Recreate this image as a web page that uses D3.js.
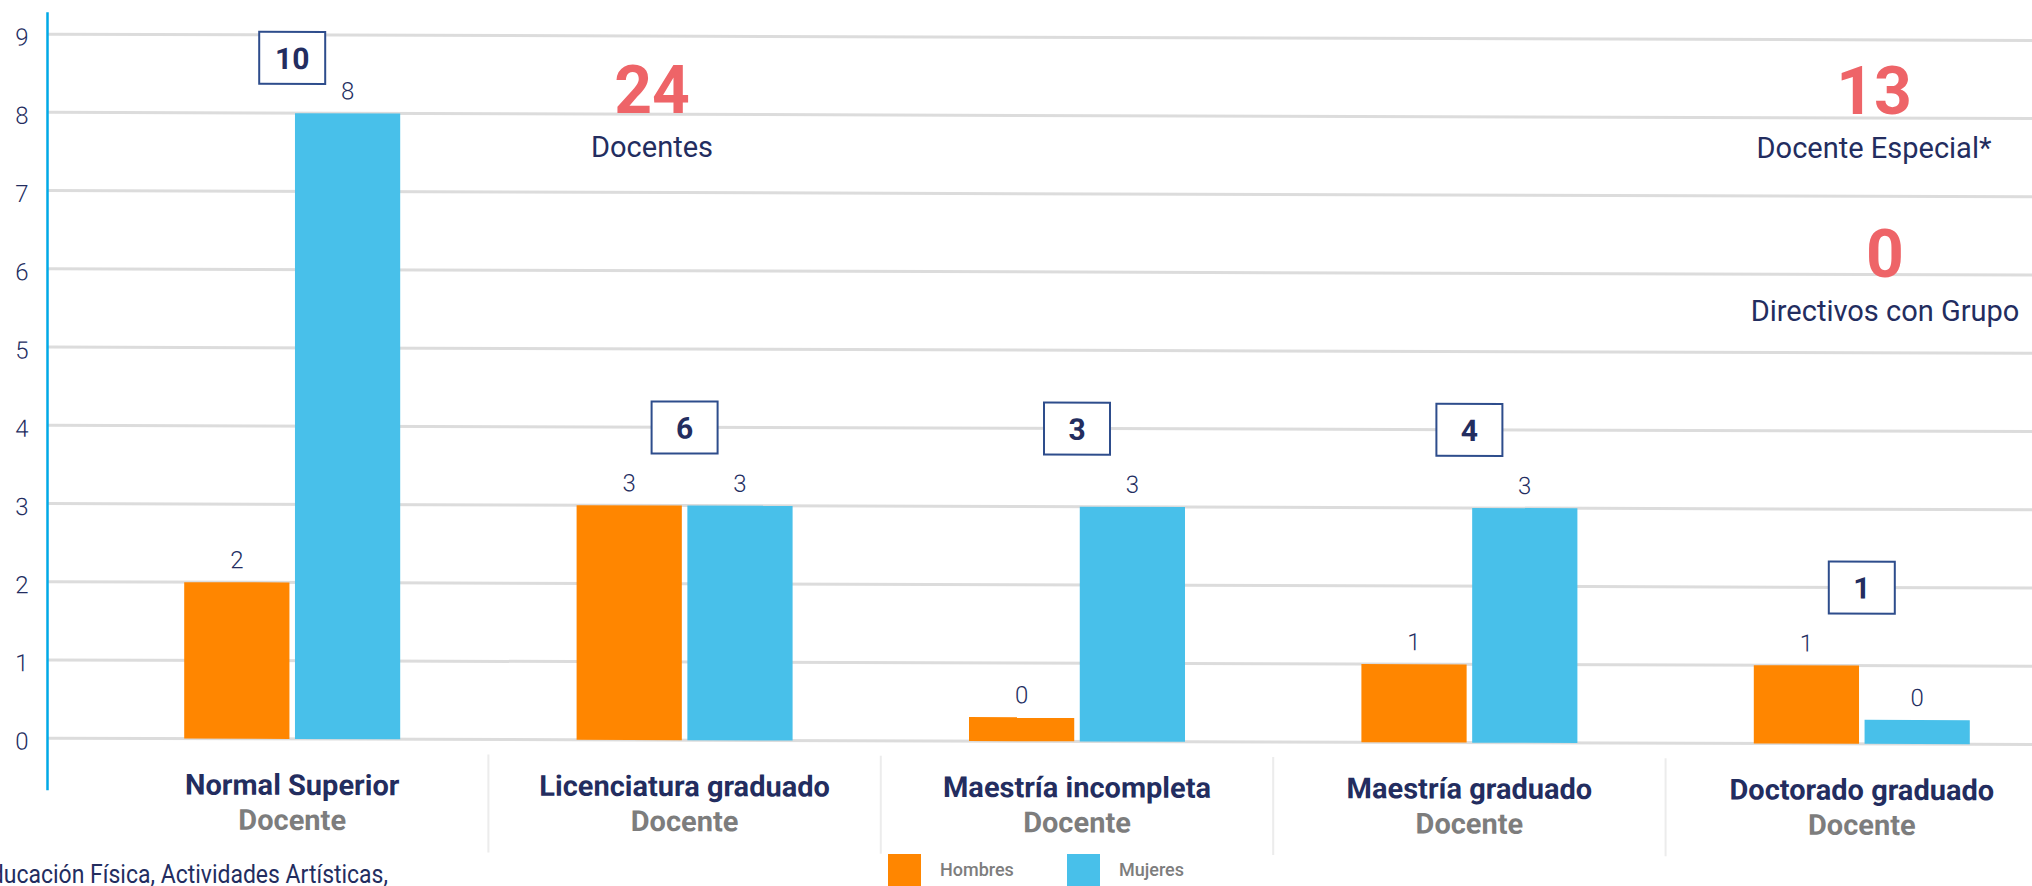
<!DOCTYPE html>
<html>
<head>
<meta charset="utf-8">
<script src="https://cdn.jsdelivr.net/npm/d3@7"></script>
<style>
  body { margin: 0; background: #fff; overflow: hidden; }
  svg { display: block; font-family: Roboto, "Noto Sans", sans-serif; }
</style>
</head>
<body>
<div id="chart"></div>
<script>
// data
const categories = ["Normal Superior", "Licenciatura graduado", "Maestría incompleta", "Maestría graduado", "Doctorado graduado"];
const roleLabel = "Docente";
const series = ["Hombres", "Mujeres"];
const hombres = [2, 3, 0, 1, 1];
const mujeres = [8, 3, 3, 3, 0];
const yTicks = [0, 1, 2, 3, 4, 5, 6, 7, 8, 9];
const statValues = [24, 13, 0];
const statLabels = ["Docentes", "Docente Especial*", "Directivos con Grupo"];
const footnote = "Educación Física, Actividades Artísticas,";

const width = 2032, height = 886;
const navy = "#232d5f", grey = "#7d7d7d", red = "#ee6468";
const color = d3.scaleOrdinal(series, ["#ff8600", "#48c0ea"]);

const svg = d3.select("#chart").append("svg")
    .attr("width", width)
    .attr("height", height);

// the source is very slightly sheared, so the plot is too
const g = svg.append("g").attr("transform", "skewY(0.18)");

const y = d3.scaleLinear().domain([0, 9]).range([738, 34]);
const x0 = d3.scaleBand().domain(categories).range([96, 2058]);
const pairWidth = 216;
const x1 = d3.scaleBand().domain(series).range([0, pairWidth]).paddingInner(0.05);
const minBar = 24; // zero values still get a stub

// gridlines
g.append("g").selectAll("line")
    .data(yTicks)
    .enter().append("line")
    .attr("x1", 48).attr("x2", width)
    .attr("y1", d => y(d)).attr("y2", d => y(d))
    .attr("stroke", "#dcdcdc")
    .attr("stroke-width", 3);

// y axis
const yAxis = g.append("g")
    .attr("transform", "translate(47.5,0)")
    .call(d3.axisLeft(y).tickValues(yTicks).tickSize(0).tickPadding(19));
yAxis.select(".domain").remove();
yAxis.selectAll("text")
    .attr("dy", "0.46em")
    .attr("fill", navy)
    .style("font-size", "24px")
    .style("font-weight", 300)
    .style("font-family", "Roboto, sans-serif");

g.append("line")
    .attr("x1", 47.5).attr("x2", 47.5)
    .attr("y1", 12).attr("y2", 790)
    .attr("stroke", "#00a9e6")
    .attr("stroke-width", 2.5);

const rows = categories.map((c, i) => ({
    cat: c,
    values: [{ key: "Hombres", value: hombres[i] }, { key: "Mujeres", value: mujeres[i] }]
}));

const groups = g.append("g").selectAll("g")
    .data(rows)
    .enter().append("g")
    .attr("transform", d => `translate(${x0(d.cat) + (x0.bandwidth() - pairWidth) / 2},0)`);

const barTop = v => Math.min(y(v), y(0) - minBar);

groups.selectAll("rect")
    .data(d => d.values)
    .enter().append("rect")
    .attr("x", d => x1(d.key))
    .attr("width", x1.bandwidth())
    .attr("y", d => barTop(d.value))
    .attr("height", d => y(0) - barTop(d.value))
    .attr("fill", d => color(d.key));

groups.selectAll("text.val")
    .data(d => d.values)
    .enter().append("text")
    .attr("class", "val")
    .attr("x", d => x1(d.key) + x1.bandwidth() / 2)
    .attr("y", d => barTop(d.value) - 14)
    .attr("text-anchor", "middle")
    .attr("fill", navy)
    .style("font-size", "24px")
    .style("font-weight", 300)
    .text(d => d.value);

// boxed totals
const totals = g.append("g").selectAll("g")
    .data(rows)
    .enter().append("g")
    .attr("transform", d => {
        const cx = x0(d.cat) + x0.bandwidth() / 2;
        const cy = Math.max(y(d3.max(d.values, v => v.value)) - 78, 57);
        return `translate(${cx},${cy})`;
    });

totals.append("rect")
    .attr("x", -33).attr("y", -26)
    .attr("width", 66).attr("height", 52)
    .attr("fill", "#fff")
    .attr("stroke", "#2e4d8c")
    .attr("stroke-width", 2);

totals.append("text")
    .attr("y", 11)
    .attr("text-anchor", "middle")
    .attr("fill", navy)
    .style("font-size", "30px")
    .style("font-weight", 700)
    .text(d => d3.sum(d.values, v => v.value));

// category labels
const labels = g.append("g").selectAll("g")
    .data(categories)
    .enter().append("g")
    .attr("transform", d => `translate(${x0(d) + x0.bandwidth() / 2},0)`);

labels.append("text")
    .attr("y", 794)
    .attr("text-anchor", "middle")
    .attr("fill", navy)
    .style("font-size", "29px")
    .style("font-weight", 700)
    .text(d => d);

labels.append("text")
    .attr("y", 829)
    .attr("text-anchor", "middle")
    .attr("fill", grey)
    .style("font-size", "29px")
    .style("font-weight", 700)
    .text(roleLabel);

g.append("g").selectAll("line")
    .data(categories.slice(1))
    .enter().append("line")
    .attr("x1", d => x0(d)).attr("x2", d => x0(d))
    .attr("y1", 753).attr("y2", 851)
    .attr("stroke", "#ececec")
    .attr("stroke-width", 2);

// headline figures
const statPos = [[652, 113], [1874, 114], [1885, 277]];
const stats = svg.append("g").selectAll("g")
    .data(statValues)
    .enter().append("g")
    .attr("transform", (d, i) => `translate(${statPos[i][0]},${statPos[i][1]})`);

stats.append("text")
    .attr("text-anchor", "middle")
    .attr("fill", red)
    .style("font-size", "66px")
    .style("font-weight", 700)
    .text(d => d);

stats.append("text")
    .attr("y", 44)
    .attr("text-anchor", "middle")
    .attr("fill", navy)
    .style("font-size", "29px")
    .style("font-weight", 400)
    .text((d, i) => statLabels[i]);

// legend
const legend = svg.append("g").selectAll("g")
    .data(series)
    .enter().append("g")
    .attr("transform", (d, i) => `translate(${888 + i * 179},854)`);

legend.append("rect")
    .attr("width", 33).attr("height", 40)
    .attr("fill", d => color(d));

legend.append("text")
    .attr("x", 52).attr("y", 22)
    .attr("fill", grey)
    .style("font-size", "18px")
    .style("font-weight", 500)
    .text(d => d);

// footnote, cut at the left edge like the source
svg.append("text")
    .attr("x", -22).attr("y", 883)
    .attr("textLength", 410)
    .attr("lengthAdjust", "spacingAndGlyphs")
    .attr("fill", navy)
    .style("font-size", "25px")
    .style("font-weight", 400)
    .text(footnote);
</script>
</body>
</html>
